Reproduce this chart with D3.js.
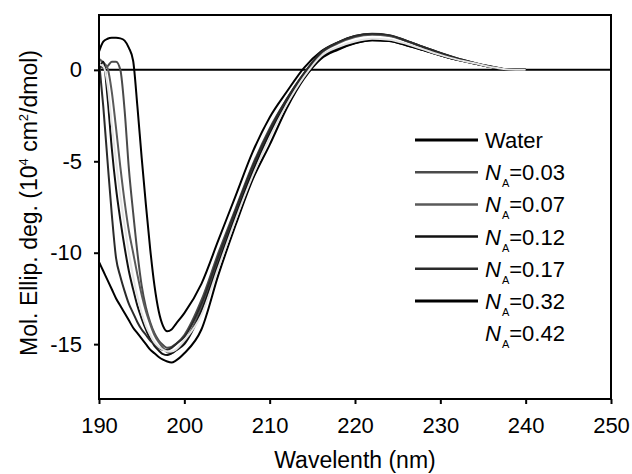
<!DOCTYPE html>
<html>
<head>
<meta charset="utf-8">
<script src="https://cdn.jsdelivr.net/npm/d3@7"></script>
<style>
  body { margin: 0; background: #fff; }
  svg { font-family: "Liberation Sans", Arial, sans-serif; }
</style>
</head>
<body>
<div id="chart"></div>
<script>
// Wavelength grid (nm)
const wavelength = [190, 190.5, 191, 191.5, 192, 192.5, 193, 193.5, 194, 194.5,
    195, 195.5, 196, 196.5, 197, 197.5, 198, 198.5, 199, 200,
    202, 204, 206, 208, 210, 212, 214, 216, 218, 220,
    222, 224, 226, 228, 230, 232, 234, 236, 238, 240];

// Mol. ellipticity (10^4 cm^2/dmol)
const water = [1.0, 1.55, 1.7, 1.75, 1.75, 1.72, 1.6, 1.2, 0.5, -2.0,
    -4.8, -7.4, -9.8, -11.8, -13.2, -14.0, -14.3, -14.2, -13.9, -13.3,
    -11.7, -9.3, -6.9, -4.5, -2.6, -1.2, 0.1, 1.0, 1.5, 1.85,
    1.96, 1.88, 1.6, 1.25, 0.92, 0.62, 0.38, 0.18, 0.02, 0];
const na003 = [0.3, 0.1, 0.2, 0.45, 0.45, 0.0, -2.2, -5.4, -7.8, -10.0,
    -11.8, -13.0, -13.8, -14.4, -14.8, -15.05, -15.2, -15.15, -15.0, -14.5,
    -12.6, -10.0, -7.6, -5.2, -3.2, -1.6, -0.2, 0.75, 1.2, 1.5,
    1.65, 1.6, 1.38, 1.1, 0.8, 0.55, 0.35, 0.15, 0.02, 0];
const na007 = [0.6, 0.4, 0.1, -1.2, -3.2, -5.3, -7.2, -8.8, -10.0, -11.2,
    -12.3, -13.2, -13.9, -14.5, -14.9, -15.2, -15.45, -15.5, -15.35, -14.9,
    -13.0, -10.4, -7.9, -5.5, -3.4, -1.7, -0.3, 0.9, 1.45, 1.8,
    1.92, 1.85, 1.58, 1.23, 0.9, 0.6, 0.37, 0.16, 0.02, 0];
const na012 = [0.0, 0.45, -1.5, -4.3, -6.5, -8.2, -9.7, -11.0, -12.0, -12.9,
    -13.6, -14.2, -14.7, -15.1, -15.35, -15.55, -15.6, -15.5, -15.35, -15.0,
    -13.2, -10.6, -8.0, -5.6, -3.5, -1.8, -0.3, 0.7, 1.15, 1.47,
    1.62, 1.58, 1.35, 1.08, 0.8, 0.55, 0.35, 0.15, 0.02, 0];
const na017 = [0.5, -2.0, -5.0, -7.9, -10.3, -11.3, -12.1, -12.8, -13.3, -13.8,
    -14.2, -14.5, -14.8, -15.0, -15.2, -15.3, -15.3, -15.2, -15.0, -14.6,
    -12.8, -10.2, -7.7, -5.3, -3.3, -1.6, -0.2, 0.95, 1.5, 1.85,
    1.98, 1.9, 1.6, 1.25, 0.92, 0.62, 0.38, 0.16, 0.02, 0];
const na032 = [-10.5, -11.0, -11.5, -12.0, -12.5, -12.9, -13.3, -13.7, -14.1, -14.4,
    -14.7, -15.0, -15.3, -15.5, -15.7, -15.85, -15.95, -16.0, -15.9, -15.5,
    -14.2, -11.2, -8.5, -6.0, -4.1, -2.1, -0.5, 0.6, 1.1, 1.45,
    1.62, 1.58, 1.35, 1.08, 0.8, 0.55, 0.35, 0.15, 0.02, 0];
const na042 = [0.3, 0.2, -0.8, -3.0, -5.0, -6.9, -8.5, -10.0, -11.3, -12.4,
    -13.3, -14.0, -14.5, -14.9, -15.15, -15.3, -15.4, -15.4, -15.3, -14.8,
    -13.4, -10.8, -8.2, -5.8, -3.7, -1.9, -0.4, 0.75, 1.25, 1.55,
    1.7, 1.65, 1.42, 1.12, 0.82, 0.56, 0.36, 0.15, 0.02, 0];

const seriesNames = ['Water', '0.03', '0.07', '0.12', '0.17', '0.32', '0.42'];
const seriesValues = [water, na003, na007, na012, na017, na032, na042];
const seriesColors = ['#000000', '#4a4a4a', '#5a5a5a', '#111111', '#2a2a2a', '#000000', '#e4e4e4'];
const legendShowLine = [true, true, true, true, true, true, false];

const xTicks = [190, 200, 210, 220, 230, 240, 250];
const yTicks = [0, -5, -10, -15];

const width = 632;
const height = 474;
const margin = { top: 15, right: 21, bottom: 75, left: 99 };

const svg = d3.select('#chart')
    .append('svg')
    .attr('width', width)
    .attr('height', height);

const x = d3.scaleLinear()
    .domain([190, 250])
    .range([margin.left, width - margin.right]);

const y = d3.scaleLinear()
    .domain([-18, 3])
    .range([height - margin.bottom, margin.top]);

// Zero line
svg.append('line')
    .attr('x1', x(190))
    .attr('x2', x(250))
    .attr('y1', y(0))
    .attr('y2', y(0))
    .style('stroke', '#000')
    .style('stroke-width', 2);

// Spectra
const line = d3.line()
    .x((d, i) => x(wavelength[i]))
    .y(d => y(d))
    .curve(d3.curveMonotoneX);

const series = seriesNames.map((name, i) => ({ name, values: seriesValues[i], color: seriesColors[i] }));

svg.append('g')
    .attr('class', 'spectra')
    .selectAll('path')
    .data(series)
    .join('path')
    .attr('d', d => line(d.values))
    .style('fill', 'none')
    .style('stroke', d => d.color)
    .style('stroke-width', 2);

// Frame
svg.append('rect')
    .attr('x', x(190))
    .attr('y', y(3))
    .attr('width', x(250) - x(190))
    .attr('height', y(-18) - y(3))
    .style('fill', 'none')
    .style('stroke', '#000')
    .style('stroke-width', 2);

// Axes
const xAxis = svg.append('g')
    .attr('transform', `translate(0,${y(-18)})`)
    .call(d3.axisBottom(x).tickValues(xTicks).tickSize(5).tickPadding(13).tickFormat(d3.format('d')));

const yAxis = svg.append('g')
    .attr('transform', `translate(${x(190)},0)`)
    .call(d3.axisLeft(y).tickValues(yTicks).tickSize(5).tickPadding(12).tickFormat(d => d === 0 ? '0' : '-' + Math.abs(d)));

[xAxis, yAxis].forEach(g => {
    g.select('.domain').remove();
    g.selectAll('.tick line').style('stroke', '#000').style('stroke-width', 2);
    g.selectAll('.tick text')
        .style('font-size', '22px')
        .style('fill', '#000')
        .attr('font-family', '"Liberation Sans", Arial, sans-serif');
});

// Axis titles
svg.append('text')
    .attr('x', (x(190) + x(250)) / 2)
    .attr('y', 468)
    .attr('text-anchor', 'middle')
    .style('font-size', '23px')
    .text('Wavelenth (nm)');

const yTitle = svg.append('text')
    .attr('transform', `translate(37,${(y(3) + y(-18)) / 2 - 4}) rotate(-90)`)
    .attr('text-anchor', 'middle')
    .style('font-size', '23px');
yTitle.append('tspan').text('Mol. Ellip. deg. (10');
yTitle.append('tspan').attr('dy', -9).style('font-size', '13px').text('4');
yTitle.append('tspan').attr('dy', 9).text(' cm');
yTitle.append('tspan').attr('dy', -9).style('font-size', '13px').text('2');
yTitle.append('tspan').attr('dy', 9).text('/dmol)');

// Legend
const legend = svg.append('g')
    .attr('class', 'legend')
    .selectAll('g')
    .data(series)
    .join('g')
    .attr('transform', (d, i) => `translate(415,${148 + i * 32.2})`);

legend.filter((d, i) => legendShowLine[i])
    .append('line')
    .attr('x1', 0)
    .attr('x2', 63)
    .attr('y1', -8)
    .attr('y2', -8)
    .style('stroke', d => d.name === 'Water' || d.name === '0.32' ? '#000' : d.color)
    .style('stroke-width', d => d.name === 'Water' || d.name === '0.32' ? 3 : 2.5);

const legendText = legend.append('text')
    .attr('x', 70)
    .style('font-size', '22px');

legendText.each(function(d) {
    const t = d3.select(this);
    if (d.name === 'Water') {
        t.text('Water');
        return;
    }
    t.append('tspan').style('font-style', 'italic').text('N');
    t.append('tspan').attr('dy', 7).attr('dx', 1).style('font-size', '11px').text('A');
    t.append('tspan').attr('dy', -7).text('=' + d.name);
});
</script>
</body>
</html>
